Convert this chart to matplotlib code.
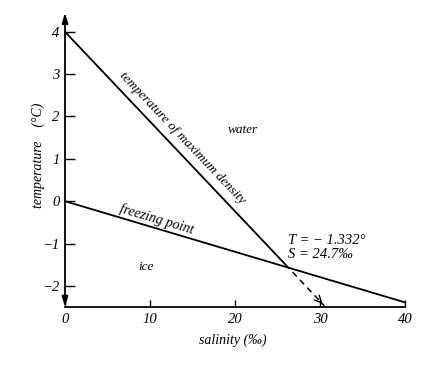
import matplotlib
matplotlib.use("Agg")
import matplotlib.pyplot as plt
import numpy as np

plt.rcParams['font.family'] = ['Liberation Serif', 'DejaVu Serif']
plt.rcParams['font.style'] = 'italic'

# data
sal_freeze = [0, 40]
temp_freeze = [0, -2.39]

sal_maxdens = [0, 25.9]
temp_maxdens = [4, -1.49]

sal_dash = [25.9, 30.5]
temp_dash = [-1.49, -2.47]

xticks = [0, 10, 20, 30, 40]
yticks = [-2, -1, 0, 1, 2, 3, 4]

fig = plt.figure(figsize=(4.22, 3.66), dpi=100)
ax = fig.add_axes([0.154, 0.161, 0.806, 0.81])

# lines
ax.plot(sal_maxdens, temp_maxdens, color='black', lw=1.3)
ax.plot(sal_freeze, temp_freeze, color='black', lw=1.3)
ax.plot(sal_dash, temp_dash, color='black', lw=1.1, ls=(0, (4, 3)))
ax.annotate('', xy=(sal_dash[1], temp_dash[1]),
            xytext=(sal_dash[1] - 0.6, temp_dash[1] + 0.13),
            arrowprops=dict(arrowstyle='->,head_length=0.5,head_width=0.25',
                            color='black', lw=1.0))

ax.set_xlim(0, 40)
ax.set_ylim(-2.5, 4.5)

##### AXES #####
ax.spines['top'].set_visible(False)
ax.spines['right'].set_visible(False)
ax.spines['left'].set_visible(False)
ax.spines['bottom'].set_linewidth(1.3)

# vertical axis with arrows at both ends
ax.annotate('', xy=(0, 4.45), xytext=(0, -2.5),
            arrowprops=dict(arrowstyle='<|-|>,head_length=0.6,head_width=0.18',
                            color='black', lw=1.3, shrinkA=0, shrinkB=0),
            annotation_clip=False)

##### TICKS #####
ax.set_xticks(xticks)
ax.set_yticks(yticks)
ax.tick_params(axis='both', direction='in', labelsize=10.5, width=1.0)
ax.tick_params(axis='x', length=5, pad=4)
ax.tick_params(axis='y', length=7, pad=4)

##### TEXTS #####
ax.text(13.8, 1.48, 'temperature of maximum density', rotation=-46.5,
        ha='center', va='center', fontsize=9.7, rotation_mode='anchor')
ax.text(10.8, -0.43, 'freezing point', rotation=-16.5,
        ha='center', va='center', fontsize=10, rotation_mode='anchor')
ax.text(20.9, 1.69, 'water', ha='center', va='center', fontsize=9.5)
ax.text(9.5, -1.56, 'ice', ha='center', va='center', fontsize=9.5)
ax.text(26.2, -0.92, 'T = \u2212 1.332°', ha='left', va='center', fontsize=10.5)
ax.text(26.2, -1.25, 'S = 24.7\u2030', ha='left', va='center', fontsize=10.5)

fig.text(38 / 422, 1 - 155 / 366, 'temperature    (°C)', rotation=90,
         ha='center', va='center', fontsize=10)
fig.text(233 / 422, 1 - 340 / 366, 'salinity (\u2030)',
         ha='center', va='center', fontsize=10)

fig.savefig('out.png', dpi=100)
